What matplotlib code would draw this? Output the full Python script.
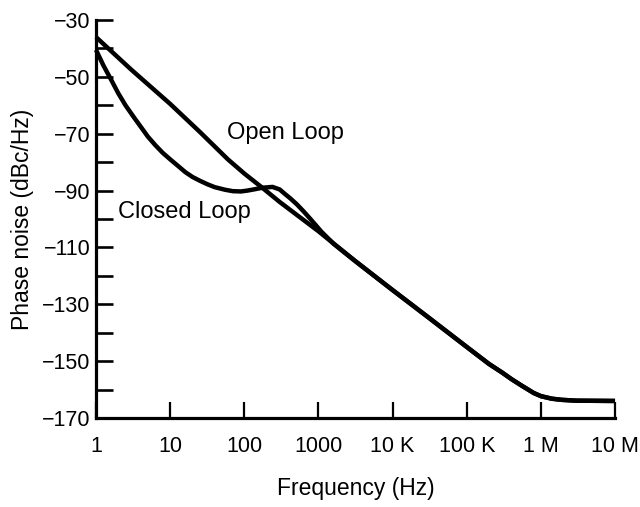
import numpy as np
import matplotlib
matplotlib.use("Agg")
import matplotlib.pyplot as plt

plt.rcParams['font.family'] = ['Liberation Sans', 'DejaVu Sans']

# values (frequency in Hz, noise in dBc/Hz)
open_freq = [1, 3, 10, 25, 60, 100, 175, 300, 1000, 3000, 10e3, 15e3, 30e3,
             100e3, 200e3, 300e3, 400e3, 550e3, 800e3, 1e6, 1.4e6, 1.9e6, 3e6, 10e6]
open_noise = [-36, -47.5, -59.5, -69.3, -79, -84, -89, -94, -104.3, -114.4, -125,
              -128.5, -134.5, -145, -151, -154, -156.3, -158.6, -161.2, -162.3,
              -163.2, -163.6, -163.9, -164]

closed_freq = [1, 1.26, 1.6, 2, 2.5, 3.2, 4, 5, 6.3, 8, 10, 13, 16, 20, 25, 32, 40,
               55, 70, 90, 110, 140, 175, 240, 300, 350, 420, 510, 640, 780, 1100,
               1600, 3000, 10e3, 15e3, 30e3, 100e3, 200e3, 300e3, 400e3, 550e3,
               800e3, 1e6, 1.4e6, 1.9e6, 3e6, 10e6]
closed_noise = [-40.5, -46, -51, -55.8, -60, -64, -67.5, -71, -74, -76.8, -79, -81.5,
                -83.5, -85.2, -86.5, -87.8, -88.8, -89.7, -90.2, -90.3, -90, -89.5,
                -89, -88.7, -89.6, -91.1, -92.8, -94.8, -97.5, -100, -104.5,
                -108.7, -114.4, -125, -128.5, -134.5, -145, -151, -154, -156.3,
                -158.6, -161.2, -162.3, -163.2, -163.6, -163.9, -164]

x_ticks = [1, 10, 100, 1000, 1e4, 1e5, 1e6, 1e7]
x_labels = ['1', '10', '100', '1000', '10 K', '100 K', '1 M', '10 M']
y_major = [-170, -150, -130, -110, -90, -70, -50, -30]
y_minor = [-160, -140, -120, -100, -80, -60, -40]

fig = plt.figure(figsize=(6.4, 5.07), dpi=100)
ax = fig.add_axes([0.15, 0.1755, 0.811, 0.785])

ax.plot(open_freq, open_noise, color='black', lw=3.2, clip_on=False,
        solid_capstyle='butt', solid_joinstyle='round')
ax.plot(closed_freq, closed_noise, color='black', lw=3.2, clip_on=False,
        solid_capstyle='butt', solid_joinstyle='round')

ax.set_xscale('log')
ax.set_xlim(1, 1e7)
ax.set_ylim(-170, -30)

ax.set_xticks(x_ticks)
ax.set_xticklabels(x_labels)
ax.xaxis.set_minor_locator(matplotlib.ticker.NullLocator())
ax.set_yticks(y_major)
ax.set_yticklabels([str(v).replace('-', '\u2212') for v in y_major])
ax.set_yticks(y_minor, minor=True)

for s in ['top', 'right']:
    ax.spines[s].set_visible(False)
for s in ['left', 'bottom']:
    ax.spines[s].set_linewidth(2.3)

ax.tick_params(axis='x', which='major', direction='in', length=11.5, width=1.6,
               pad=13, labelsize=15.5)
ax.tick_params(axis='y', which='both', direction='in', length=12, width=1.9,
               pad=4, labelsize=15.5)

ax.text(59, -71.9, 'Open Loop', fontsize=17, va='baseline', ha='left')
ax.text(1.98, -99.6, 'Closed Loop', fontsize=17, va='baseline', ha='left')

ax.set_xlabel('Frequency (Hz)', fontsize=16.5, labelpad=14)
ax.set_ylabel('Phase noise (dBc/Hz)', fontsize=16.5, labelpad=6)

fig.savefig('out.png', dpi=100)
